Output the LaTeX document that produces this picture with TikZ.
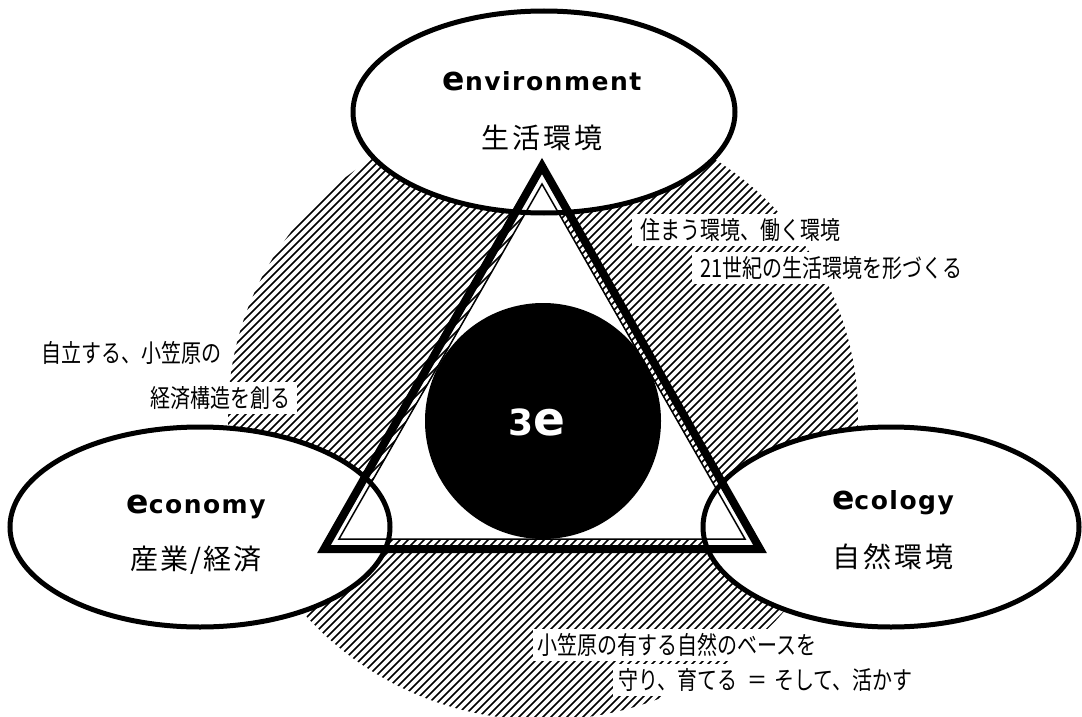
\documentclass[tikz,border=0pt]{standalone}
\usepackage{fontspec}
\usetikzlibrary{shapes.geometric}
\newfontfamily\jp{Noto Sans CJK JP}
\newfontfamily\jplab[FakeStretch=0.8]{Noto Sans CJK JP}
\newfontfamily\eng[LetterSpace=6]{DejaVu Sans}
\newfontfamily\engbig{DejaVu Sans}
\newcommand{\bige}[1]{{\engbig\bfseries\fontsize{#1}{#1}\selectfont e}}
\begin{document}
\begin{tikzpicture}[x=1pt,y=-1pt,
  hatchline/.style={line width=1.6pt},
  bubblefill/.style={ellipse, fill=white, inner sep=0pt},
  bubbleline/.style={ellipse, draw=black, line width=5pt, inner sep=0pt},
  thintri/.style={fill=white, draw=black, line width=1.5pt, line join=miter},
  thicktri/.style={draw=black, line width=8pt, line join=miter},
  title/.style={anchor=base, inner sep=0pt, font=\eng\bfseries\fontsize{25}{25}\selectfont},
  jptitle/.style={inner sep=0pt, font=\jp\fontsize{28}{28}\selectfont},
  lab/.style={fill=white, inner xsep=6pt, inner ysep=4pt, font=\jplab\fontsize{25}{25}\selectfont}
]
\useasboundingbox (0,0) rectangle (1082,717);
% hatched disc
\begin{scope}
  \clip (543,415) ellipse [x radius=315, y radius=305];
  \foreach \c in {500,508,...,1420}
    \draw[hatchline] ({\c-60},60) -- ({\c-800},800);
\end{scope}
% ellipse fills
\node[bubblefill, minimum width=382pt, minimum height=202pt] (envbg) at (544,112) {};
\node[bubblefill, minimum width=380pt, minimum height=200pt] (ecobg) at (200,527) {};
\node[bubblefill, minimum width=376pt, minimum height=200pt] (eclbg) at (891,527) {};
% triangles
\coordinate (it) at (542,184);
\coordinate (il) at (339,539);
\coordinate (ir) at (745,539);
\coordinate (ot) at (542,166);
\coordinate (ol) at (324,549);
\coordinate (or) at (760,549);
\draw[thintri] (it) -- (il) -- (ir) -- cycle;
\draw[thicktri] (ot) -- (ol) -- (or) -- cycle;
% ellipse outlines
\node[bubbleline, minimum width=382pt, minimum height=202pt] (env) at (544,112) {};
\node[bubbleline, minimum width=380pt, minimum height=200pt] (eco) at (200,527) {};
\node[bubbleline, minimum width=376pt, minimum height=200pt] (ecl) at (891,527) {};
% core
\node[circle, fill=black, minimum size=236pt, inner sep=0pt] (core) at (543,421) {};
\node[anchor=base, inner sep=0pt, text=white, font=\engbig\bfseries\fontsize{36}{36}\selectfont] (core3e) at (537,435) {3\bige{47}};
% titles
\node[title] (envt) at (542,90) {\bige{33}nvironment};
\node[jptitle] (envj) at (542,138) {生\kern3pt 活\kern3pt 環\kern3pt 境};
\node[title] (ecot) at (196,513) {\bige{33}conomy};
\node[jptitle] (ecoj) at (196,560) {産\kern2pt 業\kern2pt /\kern2pt 経\kern2pt 済};
\node[title] (eclt) at (893,509) {\bige{33}cology};
\node[jptitle] (eclj) at (893,557) {自\kern3pt 然\kern3pt 環\kern3pt 境};
% labels
\node[lab, anchor=west, inner xsep=8pt] (l1) at (632,230) {住まう環境、働く環境};
\node[lab, anchor=west, inner xsep=8pt] (l2) at (692,268) {21世紀の生活環境を形づくる};
\node[lab, anchor=east] (l3) at (228,353) {自立する、小笠原の};
\node[lab, anchor=east] (l4) at (297,398) {経済構造を創る\hspace{11pt}};
\node[lab, anchor=west, inner xsep=4pt] (l5) at (533,645) {小笠原の有する自然のベースを};
\node[lab, anchor=west, inner xsep=5pt] (l6) at (613,680) {守り、育てる\hspace{10pt}＝\hspace{7pt}そして、活かす};
\end{tikzpicture}
\end{document}
